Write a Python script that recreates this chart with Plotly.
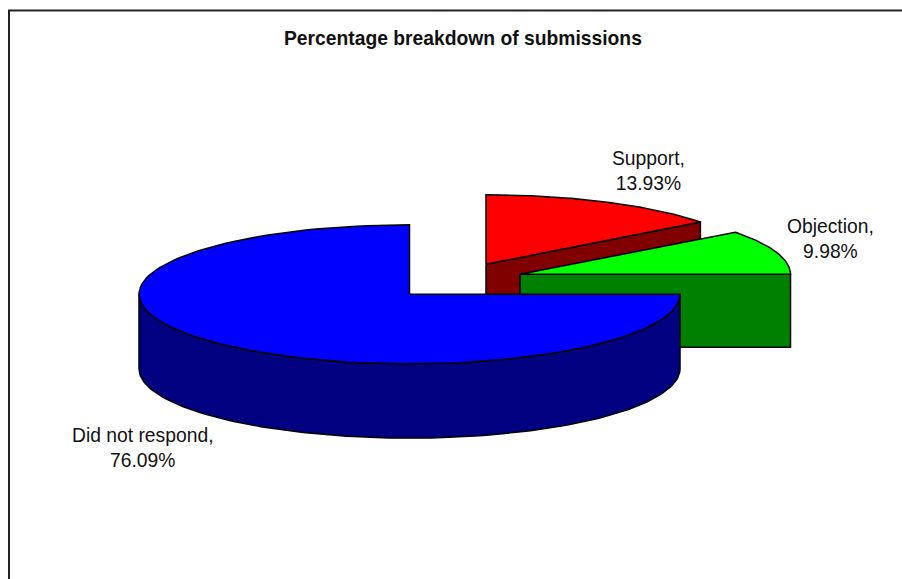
import math
import plotly.graph_objects as go

categories = ["Support", "Objection", "Did not respond"]
values = [13.93, 9.98, 76.09]
top_colors = ["#ff0000", "#00ff00", "#0000ff"]
side_colors = ["#800000", "#008000", "#000080"]
title_text = "Percentage breakdown of submissions"

# Drawing geometry of the tilted pie, in picture units
RX, RY = 270.5, 69.5
depths = [73.0, 73.0, 74.3]
centers = [(486.0, 264.3), (520.0, 274.3), (409.5, 294.3)]
label_pos = [(648, 171), (830, 239), (142, 448)]

# Slice sweeps: the projection squeezes the right quadrant slices slightly
q = values[0] + values[1]
sweeps = [90.0 * values[0] / q, 90.0 * values[1] / q, 270.0]
starts = [90.0, 90.0 - sweeps[0], 90.0 - sweeps[0] - sweeps[1]]


def arc(cx, cy, a0, a1, n=120):
    pts = [a0 + (a1 - a0) * i / n for i in range(n + 1)]
    xs = [cx + RX * math.cos(math.radians(a)) for a in pts]
    ys = [cy - RY * math.sin(math.radians(a)) for a in pts]
    return xs, ys


def add_poly(fig, xs, ys, color):
    fig.add_trace(go.Scatter(
        x=xs + xs[:1], y=ys + ys[:1], mode="lines", fill="toself", fillcolor=color,
        line=dict(color="black", width=1.5), hoverinfo="skip", showlegend=False))


fig = go.Figure()

# Support and Objection: front cut face, then top
for i in (0, 1):
    cx, cy = centers[i]
    a0, a1 = starts[i], starts[i] - sweeps[i]
    ex, ey = arc(cx, cy, a1, a1, 1)
    add_poly(fig, [cx, ex[0], ex[0], cx], [cy, ey[0], ey[0] + depths[i], cy + depths[i]], side_colors[i])
    xs, ys = arc(cx, cy, a0, a1)
    add_poly(fig, [cx] + xs, [cy] + ys, top_colors[i])

# Did not respond: outer wall, then top
cx, cy = centers[2]
a0, a1 = starts[2], starts[2] - sweeps[2]
wx, wy = arc(cx, cy, 0.0, -180.0)
add_poly(fig, wx + wx[::-1], wy + [y + depths[2] for y in wy[::-1]], side_colors[2])
xs, ys = arc(cx, cy, a0, a1)
add_poly(fig, [cx] + xs, [cy] + ys, top_colors[2])

# Labels
for name, val, (lx, ly) in zip(categories, values, label_pos):
    fig.add_annotation(x=lx, y=ly, xref="x", yref="y", showarrow=False, align="center",
                       text=f"{name},<br>{val:.2f}%",
                       font=dict(family="Liberation Sans", size=19.3, color="#111111"))

fig.add_annotation(x=463, y=38, xref="x", yref="y", showarrow=False,
                   text=f"<b>{title_text}</b>",
                   font=dict(family="Liberation Sans", size=19.3, color="#111111"))

# Chart frame
fig.add_shape(type="line", x0=9, x1=9, y0=10.5, y1=579, xref="x", yref="y",
              line=dict(color="#222222", width=2))
fig.add_shape(type="line", x0=8, x1=902, y0=10.5, y1=10.5, xref="x", yref="y",
              line=dict(color="#222222", width=2))

fig.update_layout(
    width=902, height=579, margin=dict(l=0, r=0, t=0, b=0), autosize=False,
    paper_bgcolor="white", plot_bgcolor="white", showlegend=False,
    xaxis=dict(range=[0, 902], visible=False, fixedrange=True),
    yaxis=dict(range=[579, 0], visible=False, fixedrange=True),
)
fig.write_html("out.html", config={"displayModeBar": False},
               post_script="document.body.style.margin='0';document.body.style.overflow='hidden';")
